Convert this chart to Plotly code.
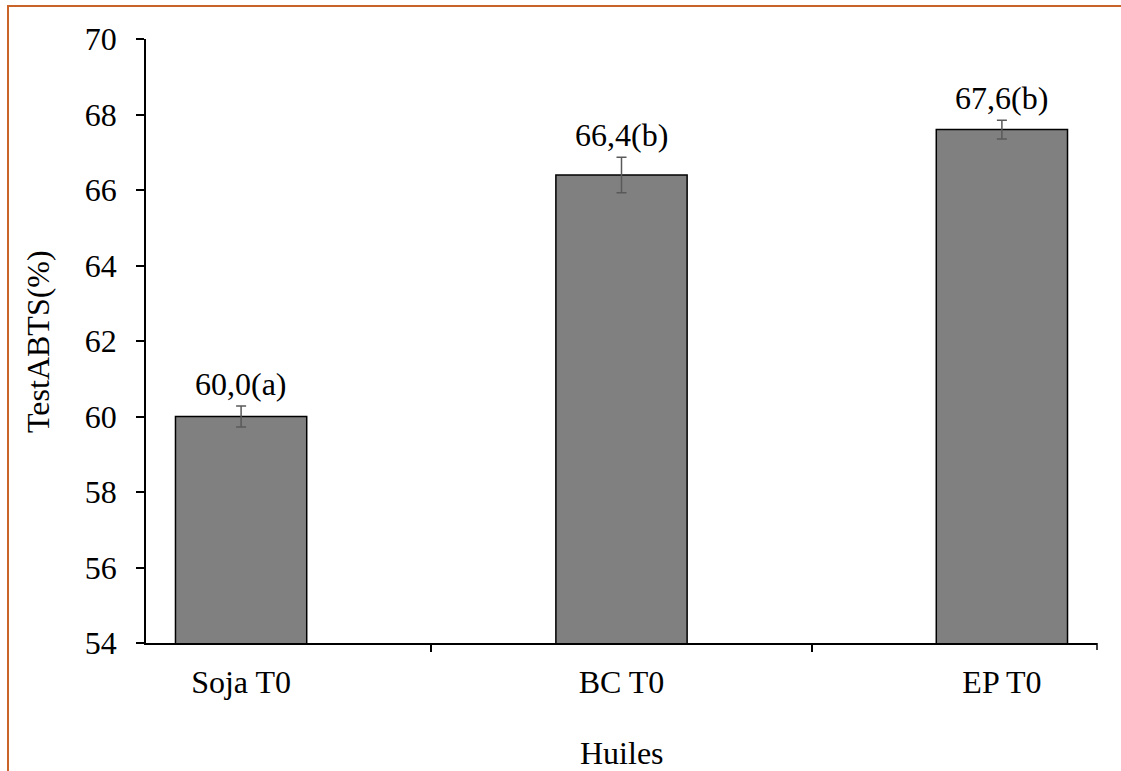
import plotly.graph_objects as go

categories = ["Soja T0", "BC T0", "EP T0"]
values = [60.0, 66.4, 67.6]
errors = [0.28, 0.47, 0.25]
labels = ["60,0(a)", "66,4(b)", "67,6(b)"]
y_title = "TestABTS(%)"
x_title = "Huiles"

FONT = "Liberation Serif"
FS = 32

fig = go.Figure()
fig.add_trace(go.Bar(
    x=categories, y=values,
    width=0.345,
    marker=dict(color="#808080", line=dict(color="#000000", width=1.5)),
    error_y=dict(type="data", array=errors, visible=True,
                 color="#595959", thickness=1.5, width=5),
    showlegend=False,
))

for c, v, e, t in zip(categories, values, errors, labels):
    fig.add_annotation(x=c, y=v + e, text=t, showarrow=False,
                       xref="x", yref="y", yanchor="middle", yshift=22,
                       font=dict(family=FONT, size=FS, color="#000000"))

fig.add_annotation(text=x_title, xref="paper", yref="paper",
                   x=0.5, y=-0.182, showarrow=False, yanchor="middle",
                   font=dict(family=FONT, size=FS, color="#000000"))
fig.add_annotation(text=y_title, xref="paper", yref="paper",
                   x=-0.1136, y=0.5, showarrow=False, textangle=-90,
                   xanchor="center", yanchor="middle",
                   font=dict(family=FONT, size=FS, color="#000000"))

# outer orange chart border (cropped at right and bottom)
fig.add_shape(type="rect", xref="paper", yref="paper",
              x0=-0.1451, x1=1.05, y0=-0.25, y1=1.0546,
              line=dict(color="#C8632A", width=2), fillcolor="rgba(0,0,0,0)",
              layer="below")
# end tick on right of x axis
fig.add_shape(type="line", xref="paper", yref="paper",
              x0=1, x1=1, y0=0, y1=-7/604,
              line=dict(color="#000000", width=1.5))

fig.update_layout(
    width=1121, height=771,
    margin=dict(l=146, r=24, t=39, b=128),
    paper_bgcolor="#FFFFFF", plot_bgcolor="#FFFFFF",
    font=dict(family=FONT, size=FS, color="#000000"),
    bargap=0.6,
)
fig.update_xaxes(
    type="category", range=[-0.25, 2.25],
    showline=True, linecolor="#000000", linewidth=1.5,
    ticks="outside", ticklen=7, tickwidth=1.5, tickcolor="#000000",
    tickson="boundaries", showgrid=False, zeroline=False,
    ticklabelstandoff=10,
    tickfont=dict(family=FONT, size=FS, color="#000000"),
)
fig.update_yaxes(
    range=[54, 70], dtick=2, tick0=54,
    showline=True, linecolor="#000000", linewidth=1.5,
    ticks="outside", ticklen=8, tickwidth=1.5, tickcolor="#000000",
    showgrid=False, zeroline=False,
    ticklabelstandoff=13,
    tickfont=dict(family=FONT, size=FS, color="#000000"),
)

fig.write_html("out.html")
